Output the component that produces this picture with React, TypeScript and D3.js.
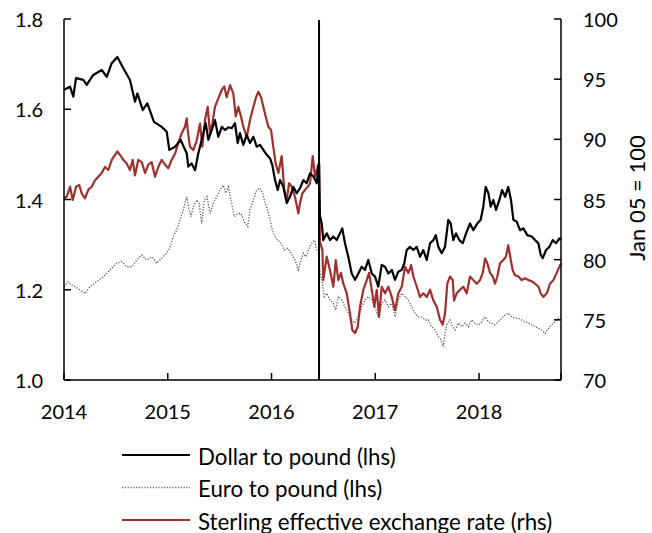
import * as d3 from 'd3';

// [decimal year, value]
const dollarToPound: [number, number][] = [
  [2014.000,1.643],[2014.058,1.650],[2014.090,1.628],[2014.116,1.669],[2014.186,1.665],[2014.219,1.654],
  [2014.282,1.676],[2014.363,1.687],[2014.412,1.672],[2014.460,1.702],[2014.514,1.716],[2014.572,1.691],
  [2014.636,1.665],[2014.684,1.617],[2014.707,1.635],[2014.759,1.598],[2014.803,1.613],[2014.867,1.572],
  [2014.942,1.561],[2014.990,1.550],[2015.015,1.510],[2015.070,1.517],[2015.125,1.532],[2015.183,1.502],
  [2015.198,1.473],[2015.231,1.480],[2015.263,1.465],[2015.294,1.502],[2015.327,1.532],[2015.366,1.569],
  [2015.391,1.532],[2015.424,1.554],[2015.455,1.576],[2015.487,1.539],[2015.520,1.561],[2015.552,1.554],
  [2015.584,1.560],[2015.616,1.558],[2015.648,1.569],[2015.674,1.525],[2015.696,1.547],[2015.728,1.521],
  [2015.761,1.543],[2015.793,1.525],[2015.825,1.539],[2015.857,1.517],[2015.889,1.521],[2015.921,1.510],
  [2015.954,1.499],[2015.986,1.491],[2016.008,1.476],[2016.034,1.443],[2016.060,1.421],[2016.082,1.443],
  [2016.114,1.428],[2016.147,1.392],[2016.178,1.406],[2016.210,1.428],[2016.243,1.414],[2016.275,1.425],
  [2016.307,1.443],[2016.339,1.436],[2016.371,1.458],[2016.403,1.451],[2016.436,1.436],[2016.451,1.473],
  [2016.458,1.480],[2016.466,1.365],[2016.484,1.347],[2016.499,1.310],[2016.532,1.325],[2016.564,1.310],
  [2016.596,1.318],[2016.628,1.310],[2016.660,1.325],[2016.682,1.336],[2016.708,1.303],[2016.740,1.273],
  [2016.773,1.236],[2016.805,1.222],[2016.837,1.236],[2016.869,1.251],[2016.901,1.244],[2016.933,1.266],
  [2016.966,1.236],[2016.998,1.229],[2017.029,1.207],[2017.062,1.255],[2017.094,1.251],[2017.126,1.236],
  [2017.159,1.244],[2017.190,1.222],[2017.222,1.240],[2017.255,1.244],[2017.280,1.259],[2017.303,1.288],
  [2017.335,1.295],[2017.367,1.288],[2017.400,1.295],[2017.431,1.273],[2017.463,1.288],[2017.496,1.266],
  [2017.528,1.303],[2017.560,1.310],[2017.583,1.321],[2017.608,1.295],[2017.640,1.281],[2017.672,1.295],
  [2017.704,1.355],[2017.727,1.347],[2017.752,1.310],[2017.778,1.325],[2017.810,1.310],[2017.843,1.303],
  [2017.875,1.325],[2017.913,1.347],[2017.945,1.332],[2017.984,1.347],[2018.016,1.355],[2018.041,1.384],
  [2018.064,1.428],[2018.090,1.414],[2018.113,1.384],[2018.138,1.399],[2018.164,1.377],[2018.196,1.399],
  [2018.222,1.421],[2018.251,1.406],[2018.282,1.428],[2018.308,1.399],[2018.331,1.355],[2018.363,1.351],
  [2018.395,1.332],[2018.427,1.336],[2018.465,1.321],[2018.508,1.318],[2018.540,1.310],[2018.572,1.303],
  [2018.595,1.277],[2018.614,1.270],[2018.646,1.288],[2018.678,1.295],[2018.710,1.310],[2018.742,1.303],
  [2018.774,1.314],[2018.790,1.310],
];

const euroToPound: [number, number][] = [
  [2014.000,1.207],[2014.041,1.218],[2014.074,1.211],[2014.106,1.207],[2014.202,1.192],[2014.251,1.207],
  [2014.315,1.218],[2014.379,1.229],[2014.443,1.244],[2014.508,1.259],[2014.556,1.262],[2014.604,1.251],
  [2014.653,1.251],[2014.701,1.266],[2014.749,1.277],[2014.797,1.266],[2014.845,1.273],[2014.893,1.259],
  [2014.942,1.270],[2014.990,1.281],[2015.022,1.295],[2015.053,1.318],[2015.086,1.332],[2015.118,1.355],
  [2015.150,1.377],[2015.183,1.406],[2015.198,1.384],[2015.224,1.362],[2015.246,1.384],[2015.279,1.399],
  [2015.301,1.392],[2015.327,1.347],[2015.352,1.399],[2015.378,1.406],[2015.407,1.369],[2015.439,1.392],
  [2015.472,1.406],[2015.504,1.421],[2015.535,1.432],[2015.559,1.414],[2015.584,1.428],[2015.616,1.392],
  [2015.641,1.362],[2015.674,1.369],[2015.706,1.369],[2015.738,1.351],[2015.771,1.340],[2015.793,1.377],
  [2015.825,1.399],[2015.857,1.421],[2015.889,1.425],[2015.915,1.414],[2015.937,1.392],[2015.963,1.377],
  [2015.986,1.355],[2016.008,1.332],[2016.034,1.318],[2016.060,1.310],[2016.092,1.303],[2016.123,1.288],
  [2016.156,1.292],[2016.188,1.281],[2016.227,1.266],[2016.258,1.244],[2016.284,1.266],[2016.307,1.281],
  [2016.330,1.273],[2016.355,1.288],[2016.387,1.303],[2016.413,1.310],[2016.436,1.288],[2016.458,1.281],
  [2016.466,1.240],[2016.484,1.222],[2016.509,1.185],[2016.532,1.192],[2016.564,1.177],[2016.596,1.170],
  [2016.619,1.155],[2016.644,1.185],[2016.677,1.177],[2016.708,1.162],[2016.740,1.148],[2016.773,1.133],
  [2016.805,1.126],[2016.837,1.140],[2016.869,1.162],[2016.901,1.177],[2016.933,1.185],[2016.966,1.177],
  [2016.998,1.162],[2017.029,1.140],[2017.062,1.170],[2017.094,1.177],[2017.126,1.162],[2017.159,1.170],
  [2017.190,1.140],[2017.222,1.177],[2017.255,1.192],[2017.287,1.185],[2017.319,1.177],[2017.351,1.162],
  [2017.383,1.148],[2017.415,1.140],[2017.448,1.140],[2017.480,1.133],[2017.511,1.133],[2017.544,1.118],
  [2017.576,1.111],[2017.608,1.096],[2017.634,1.089],[2017.656,1.074],[2017.672,1.103],[2017.694,1.126],
  [2017.720,1.133],[2017.746,1.118],[2017.771,1.111],[2017.800,1.126],[2017.833,1.118],[2017.865,1.126],
  [2017.897,1.118],[2017.930,1.133],[2017.961,1.126],[2017.993,1.122],[2018.026,1.129],[2018.058,1.140],
  [2018.090,1.129],[2018.122,1.126],[2018.154,1.122],[2018.186,1.129],[2018.219,1.137],[2018.251,1.144],
  [2018.282,1.148],[2018.315,1.140],[2018.347,1.137],[2018.379,1.137],[2018.412,1.133],[2018.443,1.129],
  [2018.475,1.126],[2018.508,1.122],[2018.540,1.118],[2018.572,1.115],[2018.604,1.111],[2018.636,1.103],
  [2018.658,1.111],[2018.684,1.118],[2018.716,1.126],[2018.749,1.133],[2018.781,1.140],
];

const sterlingERI: [number, number][] = [
  [2014.000,85.1],[2014.026,85.23],[2014.058,86.06],[2014.084,84.96],[2014.116,86.06],[2014.147,86.2],
  [2014.171,85.5],[2014.202,85.1],[2014.234,85.8],[2014.267,86.06],[2014.299,86.6],[2014.331,86.9],
  [2014.363,87.2],[2014.395,87.7],[2014.427,87.45],[2014.460,88.3],[2014.492,88.7],[2014.514,89.0],
  [2014.540,88.7],[2014.572,88.3],[2014.604,88.0],[2014.636,87.45],[2014.662,88.3],[2014.684,87.0],
  [2014.716,88.3],[2014.749,88.1],[2014.781,87.2],[2014.813,87.9],[2014.845,88.1],[2014.877,86.9],
  [2014.909,87.7],[2014.942,88.3],[2014.973,87.9],[2015.005,87.6],[2015.038,88.3],[2015.070,88.8],
  [2015.102,89.7],[2015.134,90.5],[2015.166,91.05],[2015.183,91.75],[2015.192,90.8],[2015.214,89.4],
  [2015.246,89.1],[2015.279,89.9],[2015.311,91.3],[2015.333,89.4],[2015.359,91.6],[2015.385,92.7],
  [2015.407,90.5],[2015.429,91.3],[2015.455,92.7],[2015.487,93.4],[2015.520,94.1],[2015.545,94.4],
  [2015.568,93.5],[2015.600,94.5],[2015.632,93.8],[2015.655,91.9],[2015.680,92.7],[2015.706,91.9],
  [2015.728,91.05],[2015.761,90.2],[2015.793,91.6],[2015.825,92.7],[2015.851,93.5],[2015.873,93.95],
  [2015.899,93.5],[2015.921,92.7],[2015.944,91.9],[2015.969,91.05],[2015.995,90.8],[2016.017,89.4],
  [2016.040,88.0],[2016.066,87.2],[2016.098,88.6],[2016.123,85.8],[2016.147,84.96],[2016.169,86.35],
  [2016.195,86.06],[2016.227,85.2],[2016.258,83.85],[2016.275,84.7],[2016.297,85.5],[2016.323,85.8],
  [2016.349,86.06],[2016.371,86.35],[2016.397,88.6],[2016.419,86.9],[2016.445,87.7],[2016.458,88.0],
  [2016.466,81.5],[2016.490,80.8],[2016.499,78.3],[2016.532,80.25],[2016.564,79.1],[2016.596,77.75],
  [2016.619,79.97],[2016.644,78.3],[2016.670,78.9],[2016.692,78.0],[2016.725,77.2],[2016.757,75.5],
  [2016.779,74.15],[2016.805,73.9],[2016.831,74.4],[2016.853,76.1],[2016.885,77.5],[2016.918,78.3],
  [2016.940,78.9],[2016.966,77.5],[2016.991,76.1],[2017.014,77.5],[2017.036,75.25],[2017.062,77.75],
  [2017.094,77.2],[2017.126,77.75],[2017.159,76.9],[2017.190,75.8],[2017.222,77.2],[2017.255,77.75],
  [2017.287,79.4],[2017.319,78.9],[2017.345,79.55],[2017.367,78.6],[2017.400,77.75],[2017.431,76.9],
  [2017.463,77.2],[2017.496,76.9],[2017.528,77.5],[2017.560,76.6],[2017.592,76.1],[2017.624,75.0],
  [2017.650,74.6],[2017.672,75.5],[2017.694,78.0],[2017.720,78.6],[2017.746,78.3],[2017.759,76.6],
  [2017.785,77.2],[2017.817,77.5],[2017.849,77.75],[2017.881,77.2],[2017.913,78.6],[2017.945,78.3],
  [2017.978,78.0],[2018.010,78.3],[2018.036,78.9],[2018.058,80.1],[2018.080,79.7],[2018.106,78.9],
  [2018.132,78.6],[2018.154,78.0],[2018.176,78.6],[2018.202,79.7],[2018.234,79.97],[2018.260,80.25],
  [2018.282,81.2],[2018.306,79.97],[2018.325,79.1],[2018.347,78.7],[2018.379,78.6],[2018.412,78.3],
  [2018.443,78.45],[2018.475,78.3],[2018.508,78.2],[2018.540,78.0],[2018.572,77.75],[2018.595,77.2],
  [2018.620,76.9],[2018.653,77.2],[2018.684,78.0],[2018.716,78.3],[2018.749,78.9],[2018.781,79.55],
  [2018.797,79.7],
];

const referendum = 2016.458;
const yearTicks = [2014, 2015, 2016, 2017, 2018];
const leftTicks = [1.0, 1.2, 1.4, 1.6, 1.8];
const rightTicks = [70, 75, 80, 85, 90, 95, 100];

const legendItems = [
  { label: 'Dollar to pound (lhs)', color: '#000', width: 2, dash: null },
  { label: 'Euro to pound (lhs)', color: '#666', width: 1.3, dash: '1.2,1.6' },
  { label: 'Sterling effective exchange rate (rhs)', color: '#a0302c', width: 2, dash: null },
];

const W = 652;
const H = 533;
const left = 64, right = 561, top = 19, bottom = 380;
const font = 'Lato, "Open Sans", sans-serif';

export default function App() {
  const x = d3.scaleLinear().domain([2014, 2018.79]).range([left, right]);
  const yL = d3.scaleLinear().domain([1.0, 1.8]).range([bottom, top]);
  const yR = d3.scaleLinear().domain([70, 100]).range([bottom, top]);

  const lineL = d3.line<[number, number]>().x(d => x(d[0])).y(d => yL(d[1]));
  const lineR = d3.line<[number, number]>().x(d => x(d[0])).y(d => yR(d[1]));

  return (
    <svg width={W} height={H} style={{ position: 'absolute', left: 0, top: 0, fontFamily: font }}>
      <rect width={W} height={H} fill="#fff" />

      {/* series */}
      <path d={lineL(euroToPound) || ''} fill="none" stroke="#555" strokeWidth={1.3} strokeDasharray="1.2,1.6" />
      <path d={lineR(sterlingERI) || ''} fill="none" stroke="#a0302c" strokeWidth={2.2} strokeLinejoin="round" />
      <path d={lineL(dollarToPound) || ''} fill="none" stroke="#000" strokeWidth={2.2} strokeLinejoin="round" />

      {/* referendum line */}
      <line x1={x(referendum)} x2={x(referendum)} y1={top + 1} y2={bottom} stroke="#000" strokeWidth={2} />

      {/* axes */}
      <line x1={left} x2={left} y1={top} y2={bottom} stroke="#000" strokeWidth={1.5} />
      <line x1={right} x2={right} y1={top} y2={bottom} stroke="#000" strokeWidth={1.5} />
      <line x1={left} x2={right} y1={bottom} y2={bottom} stroke="#000" strokeWidth={1.5} />

      {leftTicks.map(t => (
        <g key={'l' + t}>
          <line x1={left} x2={left + 7} y1={yL(t)} y2={yL(t)} stroke="#000" strokeWidth={1.5} />
          <text x={43} y={yL(t)} textAnchor="end" dominantBaseline="central" fontSize={20}>
            {t.toFixed(1)}
          </text>
        </g>
      ))}

      {rightTicks.map(t => (
        <g key={'r' + t}>
          <line x1={right - 7} x2={right} y1={yR(t)} y2={yR(t)} stroke="#000" strokeWidth={1.5} />
          <text x={583} y={yR(t)} textAnchor="start" dominantBaseline="central" fontSize={20}>
            {t}
          </text>
        </g>
      ))}

      {yearTicks.map(t => (
        <g key={'x' + t}>
          <line x1={x(t)} x2={x(t)} y1={bottom} y2={bottom - 7} stroke="#000" strokeWidth={1.5} />
          <text x={x(t)} y={411} textAnchor="middle" dominantBaseline="central" fontSize={20}>
            {t}
          </text>
        </g>
      ))}
      <line x1={right} x2={right} y1={bottom} y2={bottom - 7} stroke="#000" strokeWidth={1.5} />

      <text
        transform="translate(636,198) rotate(-90)"
        textAnchor="middle"
        dominantBaseline="central"
        fontSize={22}
      >
        Jan 05 = 100
      </text>

      {/* legend */}
      {legendItems.map((it, i) => {
        const yy = 455 + i * 32.5;
        return (
          <g key={it.label}>
            <line x1={122} x2={190} y1={yy} y2={yy} stroke={it.color} strokeWidth={it.width}
              strokeDasharray={it.dash || undefined} />
            <text x={198} y={yy + 1} dominantBaseline="central" fontSize={22.3}>
              {it.label}
            </text>
          </g>
        );
      })}
    </svg>
  );
}
